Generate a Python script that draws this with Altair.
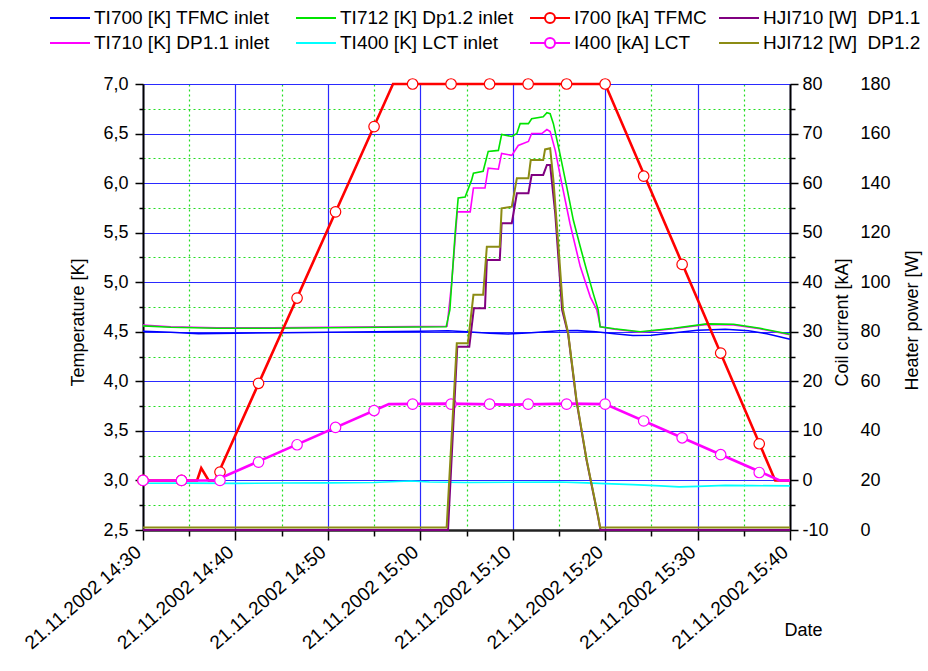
import altair as alt
import pandas as pd

BASE = pd.Timestamp("2002-11-21 14:30:00")

# ---------------- legend columns (names and colours) ----------------
COL1 = ["TI700 [K] TFMC inlet", "TI710 [K] DP1.1 inlet"]
COL1_COLORS = ["#0000ff", "#ff00ff"]
COL2 = ["TI712 [K] Dp1.2 inlet", "TI400 [K] LCT inlet"]
COL2_COLORS = ["#00e400", "#00ffff"]
COL3 = ["I700 [kA] TFMC", "I400 [kA] LCT"]
COL3_COLORS = ["#ff0000", "#ff00ff"]
COL4 = ["HJI710 [W]\u00a0 DP1.1", "HJI712 [W]\u00a0 DP1.2"]
COL4_COLORS = ["#800080", "#8c8c14"]

# ---------------- temperatures [K] (time in minutes after 14:30) ----------------
ti700_t = [0, 3, 6, 10, 15, 20, 25, 30, 33, 35, 37.5, 39.5, 42, 45, 47, 49, 51, 53, 55, 57.5, 60, 63, 65.5, 67.5, 70]
ti700_v = [4.505, 4.495, 4.48, 4.485, 4.49, 4.495, 4.50, 4.505, 4.51, 4.50, 4.485, 4.478, 4.49, 4.51, 4.512,
           4.50, 4.48, 4.462, 4.465, 4.49, 4.515, 4.525, 4.51, 4.48, 4.425]

ti712_t = [0, 3, 8, 14, 20, 26, 32.8, 33.2, 33.8, 34.1, 34.85, 35.55, 35.75, 36.8, 37.35, 38.45, 38.8, 39.9,
           40.45, 40.8, 41.7, 42.05, 43.3, 43.7, 44.05, 44.4, 45.1, 45.85, 46.55, 47.3, 48.0, 48.7, 49.25,
           49.45, 51, 53.8, 57.4, 61, 63.9, 66.75, 70]
ti712_v = [4.56, 4.545, 4.535, 4.535, 4.54, 4.545, 4.55, 4.72, 5.53, 5.85, 5.86, 6.03, 6.10, 6.12, 6.32, 6.33,
           6.49, 6.47, 6.50, 6.60, 6.60, 6.65, 6.67, 6.71, 6.70, 6.60, 6.30, 5.96, 5.63, 5.36, 5.12, 4.89, 4.72,
           4.55, 4.53, 4.50, 4.535, 4.58, 4.576, 4.535, 4.475]

ti710_t = [0, 3, 8, 14, 20, 26, 32.9, 33.4, 34.0, 35.4, 35.75, 37.0, 37.35, 38.45, 38.8, 39.9, 40.6, 41.7,
           42.05, 43.15, 43.7, 44.05, 44.6, 45.3, 46.2, 47.3, 48.4, 49.1, 49.5, 51, 53.8, 57.4, 61, 63.9, 66.75, 70]
ti710_v = [4.567, 4.55, 4.54, 4.54, 4.545, 4.55, 4.555, 5.0, 5.71, 5.71, 5.95, 5.95, 6.15, 6.14, 6.30, 6.28,
           6.38, 6.42, 6.50, 6.50, 6.54, 6.52, 6.33, 6.0, 5.59, 5.16, 4.85, 4.72, 4.55, 4.525, 4.495, 4.53,
           4.575, 4.57, 4.53, 4.47]

ti400_t = [0, 5, 10, 15, 20, 25, 27.5, 29, 31, 35, 40, 45, 48, 50, 53, 56, 58, 60, 63, 66, 70]
ti400_v = [2.972, 2.973, 2.97, 2.974, 2.975, 2.98, 2.99, 2.995, 2.985, 2.98, 2.982, 2.984, 2.975, 2.968,
           2.958, 2.945, 2.935, 2.94, 2.95, 2.948, 2.945]

# ---------------- coil currents [kA] ----------------
i700_t = [0, 5.85, 6.3, 7.1, 7.8, 27.05, 50.0, 68.4, 70]
i700_v = [0, 0, 2.5, 0, 0, 80, 80, 0, 0]
i400_t = [0, 7.8, 26.6, 33, 40, 46, 50.0, 68.9, 70]
i400_v = [0, 0, 15.4, 15.5, 15.3, 15.5, 15.4, 0, 0]

marker_t = [0, 4.17, 8.33, 12.5, 16.67, 20.83, 25.0, 29.17, 33.33, 37.5, 41.67, 45.83, 50.0, 54.17, 58.33,
            62.5, 66.67]
i700_marker_v = [0, 0, 1.7, 19.6, 36.8, 54.2, 71.4, 80, 80, 80, 80, 80, 80, 61.4, 43.6, 25.7, 7.4]
i400_marker_v = [0, 0, 0, 3.7, 7.2, 10.7, 14.1, 15.4, 15.4, 15.4, 15.4, 15.4, 15.4, 12.0, 8.6, 5.2, 1.6]

# ---------------- heater power [W] ----------------
hji712_t = [0, 32.85, 33.95, 35.15, 35.75, 36.8, 37.2, 38.6, 38.8, 39.9, 40.45, 41.7, 41.95, 43.3, 43.5,
            44.05, 44.4, 44.95, 45.45, 46.0, 46.9, 48.0, 49.25, 49.45, 70]
hji712_v = [1, 1, 75.4, 75.4, 94.9, 94.9, 114.3, 114.3, 129.8, 130.5, 142, 142, 149.3, 149.3, 153.6, 154.1,
            141.3, 114.4, 88.8, 79.4, 52.5, 28.3, 5.4, 1, 1]
hji710_t = [0, 33.0, 34.0, 35.3, 35.8, 37.0, 37.2, 38.6, 38.8, 39.9, 40.45, 41.7, 42.05, 43.3, 43.7, 44.05,
            44.6, 45.35, 46.0, 46.9, 48.0, 49.25, 49.5, 70]
hji710_v = [0, 0, 74, 74, 89.5, 89.5, 109, 109, 123.8, 123.8, 135.9, 135.9, 143.3, 143.3, 147.3, 147.3,
            127.8, 88.8, 79, 52, 28, 5, 0, 0]

# ---------------- axis ticks ----------------
x_tick_minutes = [(14, 30), (14, 35), (14, 40), (14, 45), (14, 50), (14, 55), (15, 0), (15, 5), (15, 10),
                  (15, 15), (15, 20), (15, 25), (15, 30), (15, 35), (15, 40)]
temp_ticks = [2.5, 2.75, 3.0, 3.25, 3.5, 3.75, 4.0, 4.25, 4.5, 4.75, 5.0, 5.25, 5.5, 5.75, 6.0, 6.25, 6.5,
              6.75, 7.0]
coil_ticks = [-10, -5, 0, 5, 10, 15, 20, 25, 30, 35, 40, 45, 50, 55, 60, 65, 70, 75, 80]
power_ticks = [0, 20, 40, 60, 80, 100, 120, 140, 160, 180]

FONT = "Liberation Sans"
BLUE_GRID = "#2a2aff"
GREEN_GRID = "#22dd22"
AX_FS = 18


def frame(name, t, v):
    return pd.DataFrame({"time": BASE + pd.to_timedelta(t, unit="min"), "value": v, "series": name})


def dt(h, m):
    return alt.DateTime(year=2002, month=11, date=21, hours=h, minutes=m)


XMAJ = "minutes(datum.value) % 10 === 0"
x_enc = alt.X(
    "time:T",
    scale=alt.Scale(domain=[dt(14, 30), dt(15, 40)], nice=False),
    axis=alt.Axis(
        values=[dt(h, m) for h, m in x_tick_minutes],
        labelExpr=f"{XMAJ} ? timeFormat(datum.value, '%d.%m.%Y %H:%M') : ''",
        labelAngle=319, labelAlign="right", labelBaseline="middle", labelPadding=9, labelOffset=-5,
        labelFont=FONT, labelFontSize=19, labelColor="black", labelOverlap=False, labelFlush=False,
        labelBound=False,
        tickSize={"condition": {"test": XMAJ, "value": 10}, "value": 6},
        tickColor="black", tickWidth=1.5, domainColor="#222222", domainWidth=2.5,
        grid=True,
        gridColor={"condition": {"test": XMAJ, "value": BLUE_GRID}, "value": GREEN_GRID},
        gridDash={"condition": {"test": XMAJ, "value": []}, "value": [2, 3]},
        gridWidth=1.2,
        title="Date", titleFont=FONT, titleFontSize=AX_FS, titleFontWeight="normal", titleColor="black",
        titleX=641, titleY=100, titleAlign="left", titleBaseline="middle", titleAngle=0,
    ),
)

TMAJ = "datum.value % 0.5 === 0"
temp_scale = alt.Scale(domain=[2.5, 7.0], nice=False, zero=False)
temp_y = alt.Y(
    "value:Q", scale=temp_scale,
    axis=alt.Axis(
        orient="left", values=temp_ticks,
        labelExpr=f"{TMAJ} ? replace(format(datum.value, '.1f'), '.', ',') : ''",
        labelFont=FONT, labelFontSize=AX_FS, labelColor="black", labelPadding=7,
        tickSize={"condition": {"test": TMAJ, "value": 8}, "value": 4},
        tickColor="black", tickWidth=1.5, domainColor="black", domainWidth=2,
        grid=True,
        gridColor={"condition": {"test": TMAJ, "value": BLUE_GRID}, "value": GREEN_GRID},
        gridDash={"condition": {"test": TMAJ, "value": []}, "value": [2, 3]},
        gridWidth=1.2,
        title="Temperature [K]", titleFont=FONT, titleFontSize=AX_FS, titleFontWeight="normal",
        titleColor="black", titleAngle=270, titleX=-65, titleY=238, titleAlign="center",
        titleBaseline="middle",
    ),
)
temp_y_noaxis = alt.Y("value:Q", scale=temp_scale, axis=None)

CMAJ = "datum.value % 10 === 0"
coil_y = alt.Y(
    "value:Q",
    scale=alt.Scale(domain=[-10, 80], nice=False, zero=False),
    axis=alt.Axis(
        orient="right", values=coil_ticks,
        labelExpr=f"{CMAJ} ? '' + datum.value : ''",
        labelFont=FONT, labelFontSize=AX_FS, labelColor="black", labelPadding=4,
        tickSize={"condition": {"test": CMAJ, "value": 8}, "value": 5},
        tickColor="black", tickWidth=1.5, domainColor="black", domainWidth=2, grid=False,
        title="Coil current [kA]", titleFont=FONT, titleFontSize=AX_FS, titleFontWeight="normal",
        titleColor="black", titleAngle=270, titleX=52, titleY=238, titleAlign="center",
        titleBaseline="middle",
    ),
)

power_y = alt.Y(
    "value:Q",
    scale=alt.Scale(domain=[0, 180], nice=False, zero=False),
    axis=alt.Axis(
        orient="right", values=power_ticks, ticks=False, tickSize=0, domain=False, grid=False,
        labelFont=FONT, labelFontSize=AX_FS, labelColor="black", labelPadding=70,
        title="Heater power [W]", titleFont=FONT, titleFontSize=AX_FS, titleFontWeight="normal",
        titleColor="black", titleAngle=270, titleX=122, titleY=236, titleAlign="center",
        titleBaseline="middle",
    ),
)

CIRCLE = "M-2,0H-0.5M0.5,0H2M-0.5,0A0.5,0.5 0 1,1 0.5,0A0.5,0.5 0 1,1 -0.5,0"
LINE = "M-2,0H2"


def color_for(names, colors, legend_x, symbol):
    legend = alt.Legend(
        title=None, orient="none", legendX=legend_x, legendY=-77, direction="vertical",
        symbolType=symbol, symbolSize=400, symbolStrokeWidth=2, symbolFillColor="white",
        labelFont=FONT, labelFontSize=19, labelColor="black", labelOffset=13, labelLimit=500,
        rowPadding=4, padding=0,
    )
    return alt.Color("series:N", scale=alt.Scale(domain=names, range=colors), legend=legend)


c1 = color_for(COL1, COL1_COLORS, -84, LINE)
c2 = color_for(COL2, COL2_COLORS, 162, LINE)
c3 = color_for(COL3, COL3_COLORS, 396, CIRCLE)
c4 = color_for(COL4, COL4_COLORS, 585, LINE)


def line(name, t, v, y_enc, color, width):
    return alt.Chart(frame(name, t, v)).mark_line(strokeWidth=width).encode(x=x_enc, y=y_enc, color=color)


def markers(name, t, v, y_enc, color):
    return alt.Chart(frame(name, t, v)).mark_point(
        shape="circle", size=110, filled=False, fill="white", fillOpacity=1, opacity=1, strokeWidth=1.2
    ).encode(x=x_enc, y=y_enc, color=color)


col1_layer = alt.layer(
    line(COL1[1], ti710_t, ti710_v, temp_y, c1, 1.6),
    line(COL1[0], ti700_t, ti700_v, temp_y, c1, 1.6),
)
col2_layer = alt.layer(
    line(COL2[0], ti712_t, ti712_v, temp_y_noaxis, c2, 1.6),
    line(COL2[1], ti400_t, ti400_v, temp_y_noaxis, c2, 1.6),
)
col3_layer = alt.layer(
    line(COL3[0], i700_t, i700_v, coil_y, c3, 2.6),
    markers(COL3[0], marker_t, i700_marker_v, coil_y, c3),
    line(COL3[1], i400_t, i400_v, coil_y, c3, 2.6),
    markers(COL3[1], marker_t, i400_marker_v, coil_y, c3),
)
col4_layer = alt.layer(
    line(COL4[0], hji710_t, hji710_v, power_y, c4, 2),
    line(COL4[1], hji712_t, hji712_v, power_y, c4, 2),
)

chart = alt.layer(col1_layer, col2_layer, col3_layer, col4_layer).resolve_scale(
    y="independent", color="independent"
).properties(
    width=647, height=446,
    autosize=alt.AutoSizeParams(type="none"),
    padding={"left": 143, "top": 84, "right": 138, "bottom": 141},
    background="white",
).configure_view(strokeWidth=0).configure(font=FONT)

chart.save("out.html", embed_options={"renderer": "svg", "actions": False})
